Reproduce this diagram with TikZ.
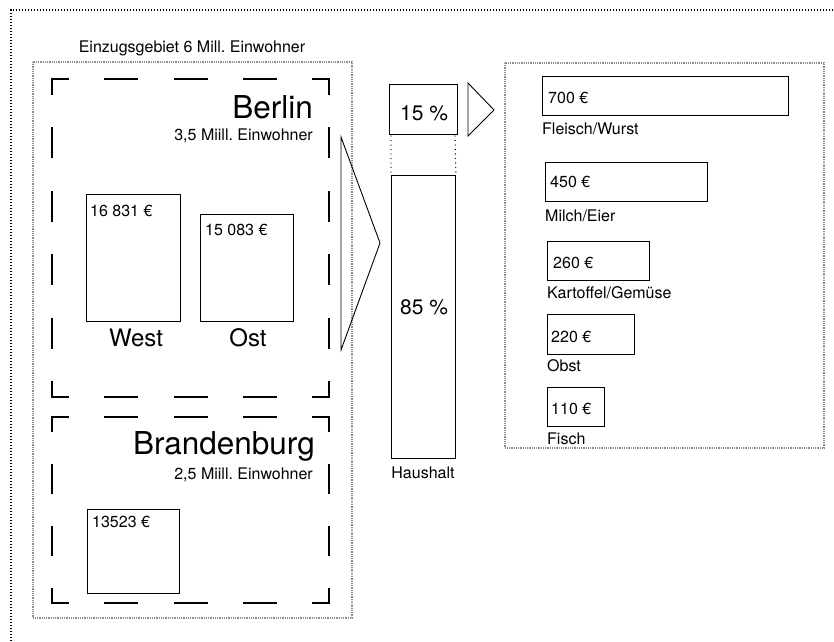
\documentclass[tikz,border=0pt]{standalone}
\usepackage{fontspec}
\setmainfont{TeX Gyre Heros}
\frenchspacing
\newcommand\fs[1]{\fontsize{#1}{#1}\selectfont}
\newcommand\dashedframe[9]{%
  % #1 x1, #2 y1, #3 x2, #4 y2, #5 dash h, #6 gap h, #7 dash v, #8 gap v, #9 corner v
  \draw[dframe] (#1,{#2+#9}) -- (#1,#2) -- ({#1+#5/2},#2);
  \draw[dframe] ({#3-#5/2},#2) -- (#3,#2) -- (#3,{#2+#9});
  \draw[dframe] (#1,{#4-#9}) -- (#1,#4) -- ({#1+#5/2},#4);
  \draw[dframe] ({#3-#5/2},#4) -- (#3,#4) -- (#3,{#4-#9});
  \draw[dframe, dash pattern=on #5pt off #6pt, dash phase=#5pt] ({#1+#5/2},#2) -- ({#3-#5/2},#2);
  \draw[dframe, dash pattern=on #5pt off #6pt, dash phase=#5pt] ({#1+#5/2},#4) -- ({#3-#5/2},#4);
  \draw[dframe, dash pattern=on #7pt off #8pt, dash phase=#7pt] (#1,{#2+#9}) -- (#1,{#4-#9});
  \draw[dframe, dash pattern=on #7pt off #8pt, dash phase=#7pt] (#3,{#2+#9}) -- (#3,{#4-#9});
}
\tikzset{
  dframe/.style={line width=1.6pt, line join=miter},
  box/.style={draw, line width=0.9pt, inner sep=0pt, anchor=north west},
  txt/.style={inner sep=0pt, font=\fs{16}},
  graybox/.style={draw=black!45, line width=1.3pt, dash pattern=on 1pt off 0.8pt},
  outer/.style={draw=black, line width=1.3pt, dash pattern=on 1.3pt off 1.7pt},
}
\begin{document}
\begin{tikzpicture}[x=1pt,y=-1pt]
\useasboundingbox (0,0) rectangle (834,641);

% outer dotted frame
\coordinate (o1) at (11,10);
\coordinate (o2) at (834,10);
\coordinate (o3) at (11,641);
\draw[outer] (o3) -- (o1) -- (o2);

% catchment area
\node[txt, anchor=base] (einz) at (192,52) {Einzugsgebiet 6 Mill. Einwohner};
\draw[graybox] (33,62) rectangle (352,618);

% Berlin
\dashedframe{52}{79}{329}{397}{34}{35.25}{31}{32.4}{16}
\node[txt, font=\fs{31.5}, anchor=base east] (berlin) at (313,118) {Berlin};
\node[txt, anchor=base east] (bpop) at (313,140) {3,5 Miill. Einwohner};
\node[box, minimum width=94pt, minimum height=127pt] (west) at (86,194) {};
\node[txt, anchor=base west] (westv) at (90,216) {16 831 €};
\node[box, minimum width=93pt, minimum height=107pt] (ost) at (200,214) {};
\node[txt, anchor=base west] (ostv) at (205,235) {15 083 €};
\node[txt, font=\fs{24}, anchor=base] (westl) at (136,346) {West};
\node[txt, font=\fs{24}, anchor=base] (ostl) at (248,346) {Ost};

% Brandenburg
\dashedframe{52}{417}{329}{603}{34}{35.25}{30}{32}{15}
\node[txt, font=\fs{31.5}, anchor=base east] (brand) at (315,454) {Brandenburg};
\node[txt, anchor=base east] (brpop) at (313,479) {2,5 Miill. Einwohner};
\node[box, minimum width=92pt, minimum height=84pt] (bb) at (87,509) {};
\node[txt, anchor=base west] (bbv) at (92,527) {13523 €};

% big arrow triangle
\draw[line width=0.9pt, line join=miter] (341,137) -- (380,243) -- (341,350) -- cycle;

% household
\node[box, minimum width=68pt, minimum height=50pt] (p15) at (389,84) {};
\node[txt, font=\fs{21}, anchor=base] (p15t) at (424,120) {15 \%};
\node[box, minimum width=64pt, minimum height=283pt] (p85) at (391,175) {};
\node[txt, font=\fs{21}, anchor=base] (p85t) at (424,314) {85 \%};
\draw[line width=1.4pt, line cap=round, dash pattern=on 0pt off 4.5pt] (391,136) -- (p85.north west);
\draw[line width=1.4pt, line cap=round, dash pattern=on 0pt off 4.5pt] (455,136) -- (p85.north east);
\node[txt, anchor=base] (haus) at (423,478) {Haushalt};

% small arrow triangle
\draw[line width=0.9pt, line join=miter] (468,83) -- (494,110) -- (468,136) -- cycle;

% food box
\draw[graybox] (505,63) rectangle (824,448);
\node[box, minimum width=246pt, minimum height=39pt] (f1) at (542,76) {};
\node[txt, anchor=base west] (f1v) at (548,103) {700 €};
\node[txt, anchor=base west] (f1l) at (542,134) {Fleisch/Wurst};
\node[box, minimum width=162pt, minimum height=39pt] (f2) at (545,162) {};
\node[txt, anchor=base west] (f2v) at (550,187) {450 €};
\node[txt, anchor=base west] (f2l) at (545,221) {Milch/Eier};
\node[box, minimum width=102pt, minimum height=39pt] (f3) at (547,241) {};
\node[txt, anchor=base west] (f3v) at (553,268) {260 €};
\node[txt, anchor=base west] (f3l) at (547,298) {Kartoffel/Gemüse};
\node[box, minimum width=87pt, minimum height=40pt] (f4) at (547,314) {};
\node[txt, anchor=base west] (f4v) at (551,342) {220 €};
\node[txt, anchor=base west] (f4l) at (547,371) {Obst};
\node[box, minimum width=57pt, minimum height=39pt] (f5) at (547,387) {};
\node[txt, anchor=base west] (f5v) at (551,414) {110 €};
\node[txt, anchor=base west] (f5l) at (547,444) {Fisch};
\end{tikzpicture}
\end{document}
